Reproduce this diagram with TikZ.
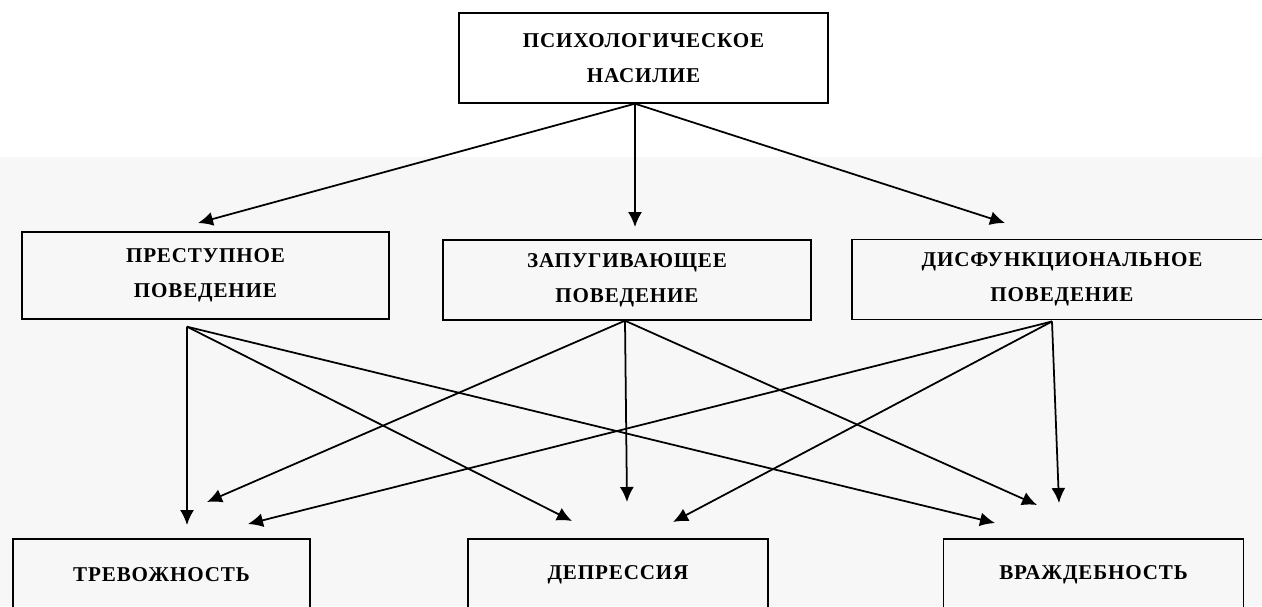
\documentclass[tikz,border=0pt]{standalone}
\usepackage{fontspec}
\setmainfont{Liberation Serif}
\usetikzlibrary{arrows.meta}
\begin{document}
\begin{tikzpicture}[x=0.02cm,y=-0.02cm,
  box/.style={draw, line width=0.8pt, align=center, inner sep=0pt,
    font=\bfseries\fontsize{12}{20}\selectfont\addfontfeature{LetterSpace=4}},
  arr/.style={line width=1pt, -{Latex[length=3mm,width=2.8mm]}}]
\path[use as bounding box, clip] (0,0) rectangle (1262,606);
\fill[black!3] (0,157) rectangle (1262,606);
% top
\node[box, minimum width=7.38cm, minimum height=1.8cm] (nasilie) at (643.5,58) {ПСИХОЛОГИЧЕСКОЕ\\НАСИЛИЕ};
% middle row
\node[box, minimum width=7.34cm, minimum height=1.74cm] (prest) at (205.5,275.5) {ПРЕСТУПНОЕ\\ПОВЕДЕНИЕ};
\node[box, minimum width=7.36cm, minimum height=1.6cm] (zapug) at (627,280) {ЗАПУГИВАЮЩЕЕ\\ПОВЕДЕНИЕ};
\node[box, minimum width=8.4cm, minimum height=1.59cm] (disf) at (1062,279.5) {ДИСФУНКЦИОНАЛЬНОЕ\\ПОВЕДЕНИЕ};
% bottom row
\node[box, minimum width=5.94cm, minimum height=1.44cm] (trev) at (161.5,575) {ТРЕВОЖНОСТЬ};
\node[box, minimum width=6cm, minimum height=1.44cm] (depr) at (618,575) {ДЕПРЕССИЯ};
\node[box, minimum width=5.99cm, minimum height=1.44cm] (vrazh) at (1093.5,575) {ВРАЖДЕБНОСТЬ};
% arrow ends
\coordinate (nasOut) at ([xshift=-0.17cm]nasilie.south);
\coordinate (prOut) at ([xshift=-0.37cm,yshift=-0.14cm]prest.south);
\coordinate (zaOut) at ([xshift=-0.04cm]zapug.south);
\coordinate (diOut) at ([xshift=-0.2cm,yshift=-0.03cm]disf.south);
\coordinate (prIn) at (198,223);
\coordinate (zaIn) at (635,227);
\coordinate (diIn) at (1005,223);
\coordinate (trIn1) at (187,525);
\coordinate (trIn2) at (207,502);
\coordinate (trIn3) at (248,524);
\coordinate (deIn1) at (572,521);
\coordinate (deIn2) at (627,502);
\coordinate (deIn3) at (673,522);
\coordinate (vrIn1) at (995,523);
\coordinate (vrIn2) at (1037,505);
\coordinate (vrIn3) at (1059,503);
\draw[arr] (nasOut) -- (prIn);
\draw[arr] (nasOut) -- (zaIn);
\draw[arr] (nasOut) -- (diIn);
\draw[arr] (prOut) -- (trIn1);
\draw[arr] (prOut) -- (deIn1);
\draw[arr] (prOut) -- (vrIn1);
\draw[arr] (zaOut) -- (trIn2);
\draw[arr] (zaOut) -- (deIn2);
\draw[arr] (zaOut) -- (vrIn2);
\draw[arr] (diOut) -- (trIn3);
\draw[arr] (diOut) -- (deIn3);
\draw[arr] (diOut) -- (vrIn3);
\end{tikzpicture}
\end{document}
